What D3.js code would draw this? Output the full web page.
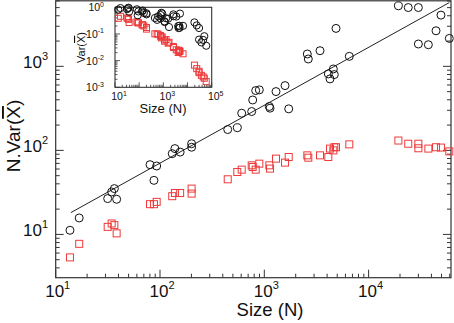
<!DOCTYPE html>
<html>
<head>
<meta charset="utf-8">
<script src="https://cdn.jsdelivr.net/npm/d3@7"></script>
<style>
  html, body { margin: 0; padding: 0; background: #fff; }
  svg { display: block; font-family: "Liberation Sans", Arial, Helvetica, sans-serif; }
</style>
</head>
<body>
<svg id="chart" width="454" height="323"></svg>
<script>
// ---- data ----
const sizes = [13.7,16.8,31.5,34.4,36.5,38.4,80.2,87.5,92.9,131,139,156,201,201,446,551,607,757,774,827,896,1117,1135,1295,1580,1714,2583,2642,3420,4110,4265,4590,4690,4870,6530,19300,24000,30000,30000,37400,44300,49400,59400];
const nVarCircles = [11.2,15.7,26.7,32,35.1,26.2,67.6,44,65.2,91.4,105,95.5,120,109,177,186,277,290,398,515,525,333,318,501,590,312,1403,1223,1535,813,709,931,798,2827,1315,5250,5010,5010,1845,1808,2650,4070,2150];
const nVarSquares = [5.33,7.73,12.3,13.5,12.9,10.3,22.9,22.9,24.4,28.5,31.1,31.1,35.1,30.6,45.3,55.3,59,66.4,63.4,59,69.5,66.4,60.7,79.8,71.5,83.4,87.3,81.9,87.3,83.4,105,100,109,109,118,131,120,120,106,105,109,108,97.3];
// fitted power-law line endpoints
const fitN = [14, 59400];
const fitV = [18.2, 5740];
// tick labels (exponents)
const mainXExps = [1, 2, 3, 4];
const mainYExps = [1, 2, 3];
const insetXExps = [1, 3, 5];
const insetYExps = [0, -1, -2, -3];
// inset shows Var(X̄) = N.Var(X̄) / N of the same samples
const insetCircles = nVarCircles.map((v, i) => v / sizes[i]);
const insetSquares = nVarSquares.map((v, i) => v / sizes[i]);

const svg = d3.select("#chart");
const RED = "#ee3a3a";

// ---- main plot ----
const L = 55.7, R = 451, T = 0.8, B = 277.7;
const x = d3.scaleLog().domain([10, Math.pow(10, 4.79)]).range([L, R]);
const y = d3.scaleLog().domain([Math.pow(10, 0.485), Math.pow(10, 3.78)]).range([B, T]);

function isMajor(v) { return Math.abs(Math.log10(v) - Math.round(Math.log10(v))) < 1e-9; }

const gMain = svg.append("g");
gMain.append("rect").attr("x", L).attr("y", T).attr("width", R - L).attr("height", B - T)
  .attr("fill", "none").attr("stroke", "#333").attr("stroke-width", 1.2);

const xt = x.ticks(), yt = y.ticks();
gMain.selectAll(".xt").data(xt).join("line")
  .attr("x1", d => x(d)).attr("x2", d => x(d))
  .attr("y1", B).attr("y2", d => B - (isMajor(d) ? 8 : 4))
  .attr("stroke", "#333").attr("stroke-width", 1);
gMain.selectAll(".ytl").data(yt).join("line")
  .attr("x1", L).attr("x2", d => L + (isMajor(d) ? 8 : 4))
  .attr("y1", d => y(d)).attr("y2", d => y(d))
  .attr("stroke", "#333").attr("stroke-width", 1);
gMain.selectAll(".ytr").data(yt).join("line")
  .attr("x1", R).attr("x2", d => R - (isMajor(d) ? 8 : 4))
  .attr("y1", d => y(d)).attr("y2", d => y(d))
  .attr("stroke", "#333").attr("stroke-width", 1);

mainXExps.forEach(e => {
  const t = gMain.append("text").attr("x", x(Math.pow(10, e)) + 2).attr("y", 296.5)
    .attr("text-anchor", "middle").attr("font-size", 17).attr("fill", "#111");
  t.append("tspan").text("10");
  t.append("tspan").attr("font-size", 11).attr("dy", -8).text(e);
});
mainYExps.forEach(e => {
  const t = gMain.append("text").attr("x", 48).attr("y", y(Math.pow(10, e)) + 1.5)
    .attr("text-anchor", "end").attr("font-size", 17).attr("fill", "#111");
  t.append("tspan").text("10");
  t.append("tspan").attr("font-size", 11).attr("dy", -8).text(e);
});
gMain.append("text").attr("x", 270).attr("y", 316).attr("text-anchor", "middle")
  .attr("font-size", 18.5).attr("fill", "#111").text("Size (N)");
const yl = gMain.append("text").attr("transform", "translate(20,136) rotate(-90)")
  .attr("text-anchor", "middle").attr("font-size", 19).attr("fill", "#111");
yl.append("tspan").text("N.Var(");
yl.append("tspan").style("text-decoration", "overline").text("X");
yl.append("tspan").text(")");

gMain.append("line")
  .attr("x1", x(fitN[0])).attr("y1", y(fitV[0]))
  .attr("x2", x(fitN[1])).attr("y2", y(fitV[1]))
  .attr("stroke", "#222").attr("stroke-width", 1);

const sq = 7;
gMain.selectAll(".sq").data(sizes).join("rect")
  .attr("x", d => x(d) - sq / 2).attr("y", (d, i) => y(nVarSquares[i]) - sq / 2)
  .attr("width", sq).attr("height", sq)
  .attr("fill", "none").attr("stroke", RED).attr("stroke-width", 1);
gMain.selectAll(".ci").data(sizes).join("circle")
  .attr("cx", d => x(d)).attr("cy", (d, i) => y(nVarCircles[i])).attr("r", 4)
  .attr("fill", "none").attr("stroke", "#111").attr("stroke-width", 1);

// ---- inset ----
const iL = 115, iR = 211.7, iT = 7.3, iB = 87.3;
const xi = d3.scaleLog().domain([10, 1e5]).range([iL, iR]);
const yi = d3.scaleLog().domain([1e-3, 1]).range([iB, iT]);
const gIn = svg.append("g");
gIn.append("rect").attr("x", iL).attr("y", iT).attr("width", iR - iL).attr("height", iB - iT)
  .attr("fill", "#fff").attr("stroke", "#333").attr("stroke-width", 1.1);
gIn.selectAll(".ixt").data(xi.ticks()).join("line")
  .attr("x1", d => xi(d)).attr("x2", d => xi(d))
  .attr("y1", iB).attr("y2", d => iB - (isMajor(d) ? 5 : 2.5))
  .attr("stroke", "#333").attr("stroke-width", 0.8);
gIn.selectAll(".iyt").data(yi.ticks()).join("line")
  .attr("x1", iL).attr("x2", d => iL + (isMajor(d) ? 5 : 2.5))
  .attr("y1", d => yi(d)).attr("y2", d => yi(d))
  .attr("stroke", "#333").attr("stroke-width", 0.8);
insetXExps.forEach(e => {
  const t = gIn.append("text").attr("x", xi(Math.pow(10, e)) + 4).attr("y", 100)
    .attr("text-anchor", "middle").attr("font-size", 10.5).attr("fill", "#111");
  t.append("tspan").text("10");
  t.append("tspan").attr("font-size", 7).attr("dy", -4.5).text(e);
});
insetYExps.forEach(e => {
  const t = gIn.append("text").attr("x", 104).attr("y", yi(Math.pow(10, e)) + 4)
    .attr("text-anchor", "end").attr("font-size", 10.5).attr("fill", "#111");
  t.append("tspan").text("10");
  t.append("tspan").attr("font-size", 7).attr("dy", -4.5).text(e);
});
gIn.append("text").attr("x", 163).attr("y", 113).attr("text-anchor", "middle")
  .attr("font-size", 13).attr("fill", "#111").text("Size (N)");
const iyl = gIn.append("text").attr("transform", "translate(85,47.5) rotate(-90)")
  .attr("text-anchor", "middle").attr("font-size", 11).attr("fill", "#111");
iyl.append("tspan").text("Var(");
iyl.append("tspan").style("text-decoration", "overline").text("X");
iyl.append("tspan").text(")");

const isq = 6;
gIn.selectAll(".isq").data(sizes).join("rect")
  .attr("x", d => xi(d) - isq / 2).attr("y", (d, i) => yi(insetSquares[i]) - isq / 2)
  .attr("width", isq).attr("height", isq)
  .attr("fill", "none").attr("stroke", RED).attr("stroke-width", 1);
gIn.selectAll(".ici").data(sizes).join("circle")
  .attr("cx", d => xi(d)).attr("cy", (d, i) => yi(insetCircles[i])).attr("r", 3.6)
  .attr("fill", "none").attr("stroke", "#111").attr("stroke-width", 1);
</script>
</body>
</html>
